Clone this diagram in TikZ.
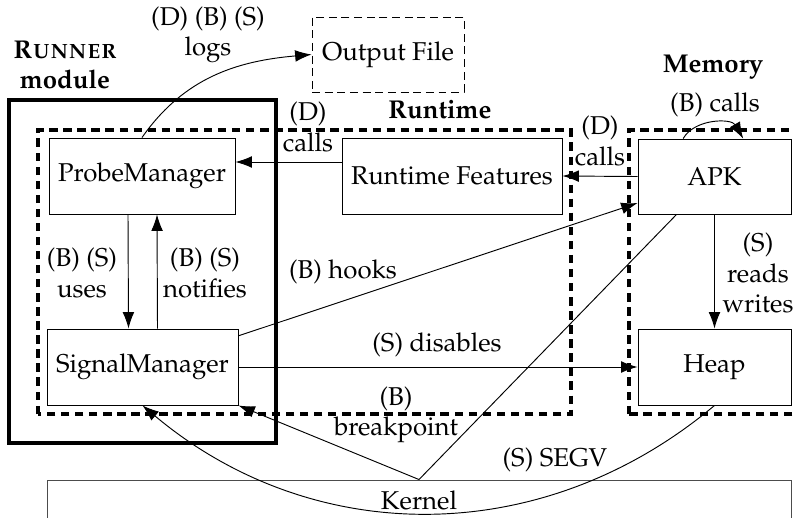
\documentclass[tikz,border=0pt]{standalone}
\usepackage[T1]{fontenc}
\usepackage{palatino}
\usetikzlibrary{arrows.meta}

\begin{document}
\begin{tikzpicture}[
    font=\fontsize{11}{13}\selectfont,
    box/.style={draw, thin, minimum width=#1, minimum height=1.14cm},
    group/.style={line width=1.6pt, dash pattern=on 3.6pt off 2.4pt},
    arr/.style={thin, -{Latex[length=7pt, width=5pt]}},
    lbl/.style={align=center, inner sep=1pt},
    title/.style={align=center, inner sep=1pt, font=\fontsize{11}{13}\selectfont\bfseries}
    ]
    \clip (0, 0) rectangle (11.895, 7.755);

    % module and groups
    \draw[line width=1.8pt] (0.14, 1.11) rectangle (4.14, 6.255);
    \draw[group] (0.57, 1.545) rectangle (8.565, 5.805);
    \draw[group] (9.435, 1.545) rectangle (12.2, 5.805);
    \node[title] (runner) at (0.975, 6.78) {\textsc{Runner}\\module};
    \node[title] (runtime) at (6.6, 6.105) {Runtime};
    \node[title] (memory) at (10.695, 6.75) {Memory};

    % components
    \node[box=2.79cm] (pm) at (2.13, 5.115) {ProbeManager};
    \node[box=2.865cm] (sm) at (2.1375, 2.25) {SignalManager};
    \node[box=3.3cm] (rtf) at (6.78, 5.115) {Runtime Features};
    \node[box=2.295cm, minimum height=1.125cm] (apk) at (10.7175, 5.1075) {APK};
    \node[box=2.295cm] (heap) at (10.7175, 2.25) {Heap};
    \node[box=2.28cm, minimum height=1.125cm, dash pattern=on 3.4pt off 2pt] (out) at (5.82, 6.9375) {Output File};
    \node[draw=black!70, thin, minimum width=11.16cm, minimum height=0.6cm] (kernel) at (6.285, 0.255) {Kernel};

    % connectors
    \draw[arr] (pm.north) to[out=55, in=185] (out.west);
    \draw[arr] ([yshift=0.21cm]rtf.west) -- ([yshift=0.21cm]pm.east);
    \draw[arr] (apk.west) -- (rtf.east);
    \draw[arr] ([xshift=-0.47cm]apk.north) to[bend left=60] ([xshift=0.43cm]apk.north);
    \draw[arr] ([xshift=-0.21cm]pm.south) -- ([xshift=-0.21cm]sm.north);
    \draw[arr] ([xshift=0.225cm]sm.north) -- ([xshift=0.225cm]pm.south);
    \draw[arr] (sm.18) -- (apk.199);
    \draw[arr] (sm.east) -- (heap.west);
    \draw[arr] (apk.south) -- (heap.north);
    \draw[arr] (apk.225) -- (kernel.north) -- (sm.south east);
    \draw[arr] (heap.south) to[bend left=40] (sm.south);

    % labels
    \node[lbl] (l-logs) at (3.12, 7.23) {(D) (B) (S)\\logs};
    \node[lbl] (l-calls1) at (4.62, 5.85) {(D)\\calls};
    \node[lbl] (l-calls2) at (9.0, 5.64) {(D)\\calls};
    \node[lbl] (l-calls3) at (10.725, 6.18) {(B) calls};
    \node[lbl] (l-uses) at (1.23, 3.66) {(B) (S)\\uses};
    \node[lbl] (l-notifies) at (3.075, 3.66) {(B) (S)\\notifies};
    \node[lbl] (l-hooks) at (5.145, 3.675) {(B) hooks};
    \node[lbl] (l-reads) at (11.37, 3.66) {(S)\\reads\\writes};
    \node[lbl] (l-disables) at (6.555, 2.58) {(S) disables};
    \node[lbl] (l-break) at (5.94, 1.53) {(B)\\breakpoint};
    \node[lbl] (l-segv) at (8.325, 0.855) {(S) SEGV};

\end{tikzpicture}
\end{document}
